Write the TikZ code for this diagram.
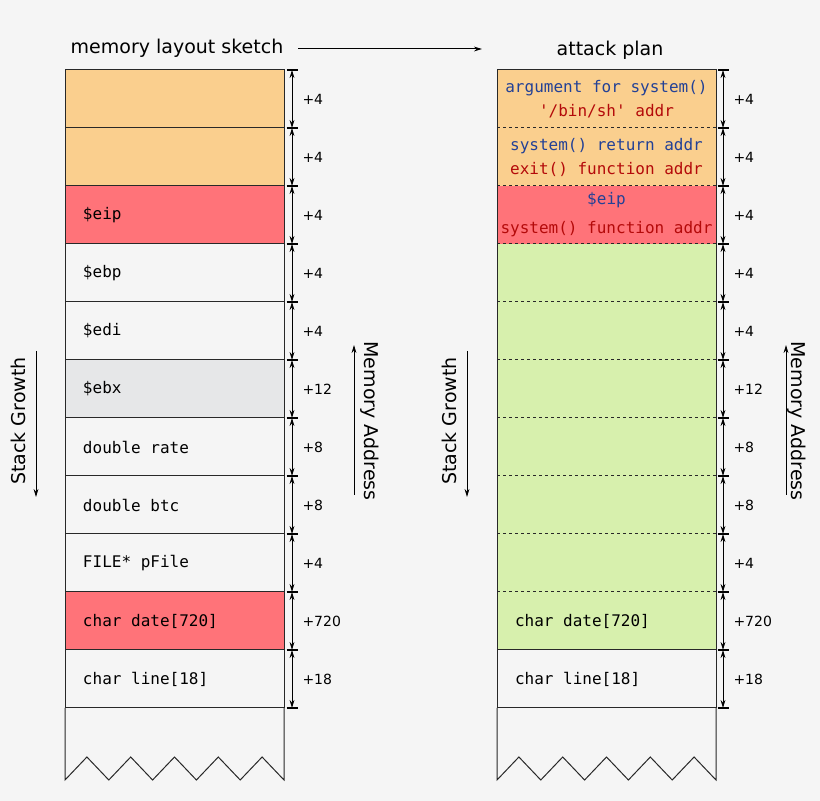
\documentclass[tikz,border=0pt]{standalone}
\usepackage{fontspec}
\setmainfont{DejaVu Sans}
\setmonofont{DejaVu Sans Mono}
\usetikzlibrary{positioning,arrows.meta}

\definecolor{pagebg}{RGB}{245,245,245}
\definecolor{slotorange}{RGB}{250,207,142}
\definecolor{slotred}{RGB}{255,115,121}
\definecolor{slotgrey}{RGB}{230,231,232}
\definecolor{slotgreen}{RGB}{215,240,173}
\definecolor{edge}{RGB}{40,40,40}
\definecolor{planblue}{RGB}{35,65,150}
\definecolor{planred}{RGB}{180,10,10}

\newcommand\codefont{\ttfamily\fontsize{8}{12}\selectfont}

\begin{document}
\begin{tikzpicture}[>={Stealth[length=4pt,width=2.4pt]}, x=0.5pt, y=-0.5pt,
  slot/.style={draw=edge, line width=0.5pt, anchor=north west,
    minimum width=109.5pt, minimum height=29pt, text width=91.5pt,
    inner xsep=9pt, inner ysep=0pt, outer sep=0pt, align=flush left, font=\codefont},
  plan/.style={slot, draw=none, align=flush center, inner xsep=0pt, text width=109.5pt},
  title/.style={font=\fontsize{9.5}{11}\selectfont},
  size/.style={inner sep=0pt, font=\fontsize{7}{8}\selectfont},
  tick/.style={line width=1pt},
  span/.style={<->, line width=0.5pt},
  sep/.style={line width=0.5pt, dash pattern=on 1.5pt off 1.5pt}]

  % Page
  \path[use as bounding box, fill=pagebg] (0,0) rectangle (820,801);

  % Titles
  \node[title] (sketch) at (177,48) {memory layout sketch};
  \node[title] (plan) at (610,50) {attack plan};
  \coordinate (planarrow) at (482,49);
  \draw[->, line width=0.5pt] (sketch.east |- planarrow) ++(8,0) -- (planarrow);

  % Memory layout sketch
  \foreach \i/\col/\txt in {0/slotorange/{}, 1/slotorange/{}, 2/slotred/{\$eip},
      3/pagebg/{\$ebp}, 4/pagebg/{\$edi}, 5/slotgrey/{\$ebx},
      6/pagebg/{double rate}, 7/pagebg/{double btc}, 8/pagebg/{FILE* pFile},
      9/slotred/{char date[720]}, 10/pagebg/{char line[18]}}
    \node[slot, fill=\col] (L\i) at (65,{70+58*\i}) {\txt};
  \draw[edge, line width=0.5pt] (L10.south west) -- ++(0,72)
    \foreach \k in {1,...,5} { -- ++(21.9,-23) -- ++(21.9,23) } -- (L10.south east);

  % Attack plan
  \node[plan, fill=slotorange] (R0) at (497,70)
    {\textcolor{planblue}{argument for system()}\\\textcolor{planred}{'/bin/sh' addr}};
  \node[plan, fill=slotorange] (R1) at (497,128)
    {\textcolor{planblue}{system() return addr}\\\textcolor{planred}{exit() function addr}};
  \node[plan, fill=slotred] (R2) at (497,186)
    {\textcolor{planblue}{\$eip}\\[2.5pt]\textcolor{planred}{system() function addr}};
  \foreach \i in {3,...,8}
    \node[plan, fill=slotgreen] (R\i) at (497,{70+58*\i}) {};
  \node[slot, draw=none, fill=slotgreen] (R9) at (497,592) {char date[720]};
  \node[slot, draw=none] (R10) at (497,650) {char line[18]};
  \foreach \i in {0,...,8}
    \draw[edge, sep] (R\i.south west) -- (R\i.south east);
  \draw[edge, line width=0.5pt] (R9.south west) -- (R9.south east);
  \draw[edge, line width=0.5pt] (R0.north west) rectangle (R10.south east);
  \draw[edge, line width=0.5pt] (R10.south west) -- ++(0,72)
    \foreach \k in {1,...,5} { -- ++(21.9,-23) -- ++(21.9,23) } -- (R10.south east);

  % Sizes
  \foreach \side/\cx in {L/292, R/723} {
    \foreach \i in {0,...,11}
      \coordinate (\side m\i) at (\cx,{70+58*\i});
    \foreach \i/\sz in {0/4, 1/4, 2/4, 3/4, 4/4, 5/12, 6/8, 7/8, 8/4, 9/720, 10/18} {
      \pgfmathtruncatemacro\j{\i+1}
      \draw[span] (\side m\i) -- (\side m\j)
        node[size, midway, right=5pt] {+\sz};
    }
    \foreach \i in {0,...,11}
      \draw[tick] ([xshift=-2.75pt]\side m\i) -- ([xshift=3pt]\side m\i);
  }

  % Growth and address directions
  \foreach \side/\gx/\ax/\mx in {L/18/36/354, R/449/467/786} {
    \node[title, rotate=90] (grow\side) at (\gx,421) {Stack Growth};
    \coordinate (grow\side top) at (\ax,351);
    \coordinate (grow\side end) at (\ax,497);
    \draw[->, line width=0.5pt] (grow\side top) -- (grow\side end);
    \coordinate (addr\side top) at (\mx,345);
    \coordinate (addr\side end) at (\mx,495);
    \draw[->, line width=0.5pt] (addr\side end) -- (addr\side top);
  }
  \node[title, rotate=-90] (addrL) at (370,421) {Memory Address};
  \node[title, rotate=-90] (addrR) at (797,421) {Memory Address};
\end{tikzpicture}
\end{document}
